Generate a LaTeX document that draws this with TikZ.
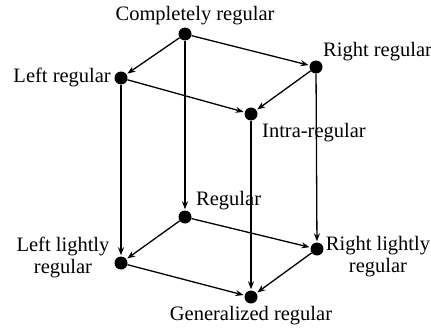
\documentclass[tikz,border=0pt]{standalone}
\usepackage{fontspec}
\setmainfont{Liberation Serif}
\usetikzlibrary{arrows.meta}
\begin{document}
\begin{tikzpicture}[x=1pt,y=-1pt,
  dot/.style={circle,fill=black,inner sep=0pt,minimum size=13pt},
  lbl/.style={font=\fontsize{20.5}{22}\selectfont,inner sep=0pt,align=center},
  arr/.style={-{Stealth[length=8pt,width=6pt]},line width=1.3pt,shorten >=1pt}]
\useasboundingbox (0,0) rectangle (431,329);
\node[dot] (cr) at (185,34) {};
\node[dot] (rr) at (316,67) {};
\node[dot] (lr) at (121,78) {};
\node[dot] (ir) at (251,114) {};
\node[dot] (r) at (185,217) {};
\node[dot] (llr) at (121,263) {};
\node[dot] (rlr) at (317,249) {};
\node[dot] (gr) at (251,297) {};
\node[lbl] (tcr) at (195,16) {Completely regular};
\node[lbl,anchor=west] (trr) at (323,52) {Right regular};
\node[lbl,anchor=east] (tlr) at (111,77) {Left regular};
\node[lbl,anchor=west] (tir) at (262,133) {Intra-regular};
\node[lbl,anchor=west] (tr) at (196,201) {Regular};
\node[lbl] (tllr) at (63,257) {Left lightly\\regular};
\node[lbl] (trlr) at (378,257) {Right lightly\\regular};
\node[lbl] (tgr) at (251,316) {Generalized regular};
\draw[arr] (cr) -- (rr);
\draw[arr] (cr) -- (lr);
\draw[arr] (cr) -- (r);
\draw[arr] (lr) -- (ir);
\draw[arr] (rr) -- (ir);
\draw[arr] (lr) -- (llr);
\draw[arr] (rr) -- (rlr);
\draw[arr] (ir) -- (gr);
\draw[arr] (r) -- (llr);
\draw[arr] (r) -- (rlr);
\draw[arr] (llr) -- (gr);
\draw[arr] (rlr) -- (gr);
\end{tikzpicture}
\end{document}
